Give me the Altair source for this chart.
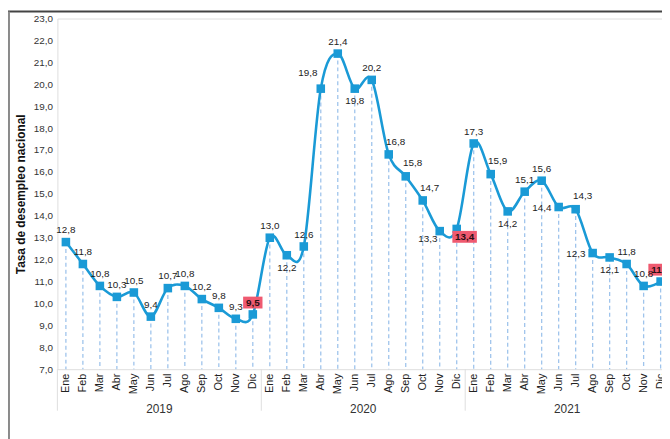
import altair as alt
import pandas as pd

months = ["Ene", "Feb", "Mar", "Abr", "May", "Jun", "Jul", "Ago", "Sep", "Oct", "Nov", "Dic"]
years = ["2019", "2020", "2021"]
rate_2019 = [12.8, 11.8, 10.8, 10.3, 10.5, 9.4, 10.7, 10.8, 10.2, 9.8, 9.3, 9.5]
rate_2020 = [13.0, 12.2, 12.6, 19.8, 21.4, 19.8, 20.2, 16.8, 15.8, 14.7, 13.3, 13.4]
rate_2021 = [17.3, 15.9, 14.2, 15.1, 15.6, 14.4, 14.3, 12.3, 12.1, 11.8, 10.8, 11.0]
y_ticks = list(range(7, 24))
highlight_month = "Dic"

# label placement codes (a=above, b=below, l=left, ar=above-right, ...)
place_2019 = ["a"] * 12
place_2020 = ["a", "b", "a", "al", "a", "b", "a", "ar", "ar", "ar", "bl", "br"]
place_2021 = ["a", "ar", "b", "a", "a", "l", "ar", "l", "b", "a", "a", "a"]
OFFSETS = {"a": (0, -12), "b": (0, 13), "al": (-13, -16), "ar": (7, -13),
           "bl": (-12, 8), "br": (8, 8), "l": (-17, 1)}

keys = [f"{m} {y}" for y in years for m in months]
values = rate_2019 + rate_2020 + rate_2021
places = place_2019 + place_2020 + place_2021
labels = [f"{v:.1f}".replace(".", ",") for v in values]

rows = []
for k, v, lab, p in zip(keys, values, labels, places):
    hl = k.startswith(highlight_month)
    half_w = (len(lab) * 2.6 + 2.0)
    half_h = 6.0
    rows.append({"key": k, "value": v, "label": lab, "place": p, "hl": hl,
                 "box_size": (2 * half_w) ** 2,
                 "box_path": f"M-1,{-half_h/half_w:.3f}L1,{-half_h/half_w:.3f}L1,{half_h/half_w:.3f}L-1,{half_h/half_w:.3f}Z"})
df = pd.DataFrame(rows)

W, H = 612, 355
STEP = 17.2
BLUE = "#1a9ad6"
FONT = "Liberation Sans"

xscale = alt.Scale(type="band", range=[0, STEP * len(keys)], paddingInner=0, paddingOuter=0)
xaxis = alt.Axis(title=None, labelExpr="split(datum.value, ' ')[0]", labelAngle=-90,
                 labelAlign="right", labelBaseline="middle", labelPadding=4,
                 labelFontSize=11, labelColor="#222", domain=False, ticks=False, grid=False)
yscale = alt.Scale(domain=[7, 23], nice=False, zero=False)
yaxis = alt.Axis(title="Tasa de desempleo nacional", values=y_ticks,
                 labelExpr="replace(format(datum.value, '.1f'), '.', ',')",
                 labelFontSize=10, labelColor="#333", labelPadding=5,
                 domain=False, ticks=False, grid=False,
                 titleFontSize=12, titleFontWeight="bold", titleColor="#111", titlePadding=6)


def X(band=None):
    if band is None:
        return alt.X("key:N", sort=keys, scale=xscale, axis=xaxis)
    return alt.X("key:N", sort=keys, scale=xscale, axis=xaxis, bandPosition=band)


Y = alt.Y("value:Q", scale=yscale, axis=yaxis)

sep_df = pd.DataFrame({"key": [f"{months[0]} {y}" for y in years]})
year_df = pd.DataFrame({"key": [f"{months[6]} {y}" for y in years], "year": years})
frame_df = pd.DataFrame({"k": [0]})

frame_top = alt.Chart(frame_df).mark_rule(color="#444", strokeWidth=2).encode(
    x=alt.value(-50), x2=alt.value(W), y=alt.value(-7))
frame_left = alt.Chart(frame_df).mark_rule(color="#8a8a8a", strokeWidth=2).encode(
    x=alt.value(-49), y=alt.value(-7), y2=alt.value(H + 80))

seps = alt.Chart(sep_df).mark_rule(color="#dddddd", strokeWidth=1).encode(
    x=X(0), y=alt.value(H), y2=alt.value(H + 42))
year_text = alt.Chart(year_df).mark_text(fontSize=12, color="#333", font=FONT, baseline="middle").encode(
    x=X(0), y=alt.value(H + 40), text="year:N")

dashed = alt.Chart(df).mark_rule(color="#9fc4ec", strokeWidth=1.3, strokeDash=[4, 3]).encode(
    x=X(), y=Y, y2=alt.datum(7))
line = alt.Chart(df).mark_line(color=BLUE, strokeWidth=2.6, interpolate="cardinal").encode(x=X(), y=Y)
squares = alt.Chart(df).mark_square(color=BLUE, size=75, opacity=1).encode(x=X(), y=Y)

layers = [frame_top, frame_left, seps, year_text, dashed, line, squares]
for code, (dx, dy) in OFFSETS.items():
    sub = alt.Chart(df).transform_filter(alt.datum.place == code)
    boxes = sub.transform_filter(alt.datum.hl).mark_point(
        filled=True, fill="#ef5a70", opacity=1, strokeWidth=0, xOffset=dx, yOffset=dy).encode(
        x=X(), y=Y, shape=alt.Shape("box_path:N", scale=None),
        size=alt.Size("box_size:Q", scale=None))
    texts = sub.transform_filter(~alt.datum.hl).mark_text(
        fontSize=10, color="#222", font=FONT, dx=dx, dy=dy, baseline="middle").encode(
        x=X(), y=Y, text="label:N")
    hl_texts = sub.transform_filter(alt.datum.hl).mark_text(
        fontSize=10, fontWeight="bold", color="#2a1014", font=FONT, dx=dx, dy=dy, baseline="middle").encode(
        x=X(), y=Y, text="label:N")
    layers += [boxes, texts, hl_texts]

chart = alt.layer(*layers).properties(
    width=W, height=H,
    autosize=alt.AutoSizeParams(type="none"),
    padding={"left": 50, "top": 8, "right": 0, "bottom": 68},
).configure_view(fill="#f1f2f2", stroke=None).configure(font=FONT)

chart.save("out.html", embed_options={"renderer": "svg", "actions": False})
